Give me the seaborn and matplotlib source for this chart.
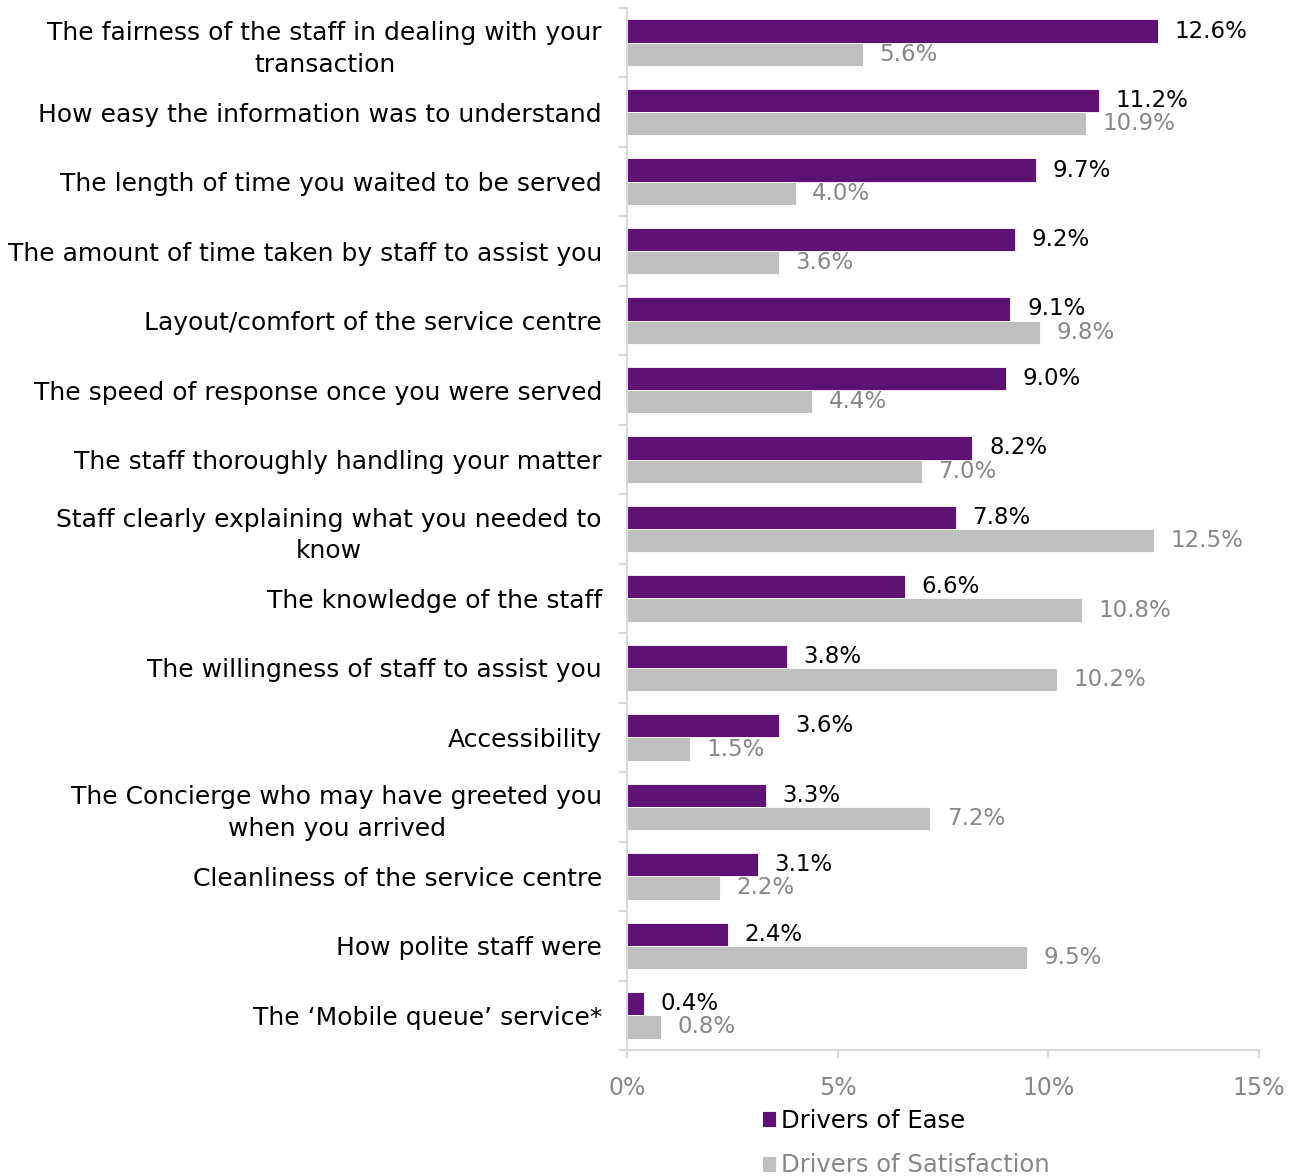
import numpy as np
import pandas as pd
import seaborn as sns
import matplotlib
matplotlib.use("Agg")
import matplotlib.pyplot as plt
from matplotlib.ticker import FixedLocator, FuncFormatter

categories = [
    "The fairness of the staff in dealing with your\ntransaction",
    "How easy the information was to understand",
    "The length of time you waited to be served",
    "The amount of time taken by staff to assist you",
    "Layout/comfort of the service centre",
    "The speed of response once you were served",
    "The staff thoroughly handling your matter",
    "Staff clearly explaining what you needed to\nknow",
    "The knowledge of the staff",
    "The willingness of staff to assist you",
    "Accessibility",
    "The Concierge who may have greeted you\nwhen you arrived",
    "Cleanliness of the service centre",
    "How polite staff were",
    "The \u2018Mobile queue\u2019 service*",
]
ease = [12.6, 11.2, 9.7, 9.2, 9.1, 9.0, 8.2, 7.8, 6.6, 3.8, 3.6, 3.3, 3.1, 2.4, 0.4]
satisfaction = [5.6, 10.9, 4.0, 3.6, 9.8, 4.4, 7.0, 12.5, 10.8, 10.2, 1.5, 7.2, 2.2, 9.5, 0.8]
series_names = ["Drivers of Ease", "Drivers of Satisfaction"]
x_ticks = [0, 5, 10, 15]

PURPLE = "#5E1274"
GREY = "#BFBFBF"
AXIS = "#D9D9D9"
TXT_GREY = "#878787"

df = pd.DataFrame({
    "label": categories * 2,
    "value": ease + satisfaction,
    "series": [series_names[0]] * len(categories) + [series_names[1]] * len(categories),
})

sns.set_theme(style="white")
plt.rcParams["font.family"] = ["DejaVu Sans"]

fig = plt.figure(figsize=(12.91, 11.76), dpi=100)
ax = fig.add_axes([627 / 1291, 1 - 1050 / 1176, (1259 - 627) / 1291, (1050 - 8) / 1176])

sns.barplot(data=df, y="label", x="value", hue="series", orient="h",
            palette=[PURPLE, GREY], saturation=1, width=0.67,
            edgecolor="white", linewidth=0.6, ax=ax, legend=True)

ax.set_xlim(0, 15)
ax.set_ylim(len(categories) - 0.5, -0.5)
ax.set_xlabel("")
ax.set_ylabel("")

# value labels
ax.bar_label(ax.containers[0], labels=[f"{v:.1f}%" for v in ease], padding=12,
             fontsize=16.5, color="black")
ax.bar_label(ax.containers[1], labels=[f"{v:.1f}%" for v in satisfaction], padding=12,
             fontsize=16.5, color=TXT_GREY)

# axes styling
for side in ["top", "right"]:
    ax.spines[side].set_visible(False)
for side in ["left", "bottom"]:
    ax.spines[side].set_color(AXIS)
    ax.spines[side].set_linewidth(1.5)

ax.xaxis.set_major_locator(FixedLocator(x_ticks))
ax.xaxis.set_major_formatter(FuncFormatter(lambda v, p: f"{v:.0f}%"))
ax.tick_params(axis="x", which="major", bottom=True, length=6, width=1.5, color=AXIS,
               labelsize=17, labelcolor=TXT_GREY, pad=13)

ax.yaxis.set_minor_locator(FixedLocator(np.arange(-0.5, len(categories), 1.0)))
ax.tick_params(axis="y", which="minor", left=True, length=6, width=1.5, color=AXIS)
ax.tick_params(axis="y", which="major", left=False, length=0, labelsize=18,
               labelcolor="black", pad=18)
for t in ax.get_yticklabels():
    t.set_multialignment("center")
    t.set_linespacing(1.4)

# legend below the plot
leg = ax.legend(loc="upper left", bbox_to_anchor=(752 / 1291, 1 - 1099 / 1176),
                bbox_transform=fig.transFigure, frameon=False, fontsize=17.5,
                handlelength=0.6, handleheight=0.6, handletextpad=0.2,
                labelspacing=0.85, borderaxespad=0)
leg.get_texts()[0].set_color("black")
leg.get_texts()[1].set_color(TXT_GREY)

fig.savefig("out.png", dpi=100)
